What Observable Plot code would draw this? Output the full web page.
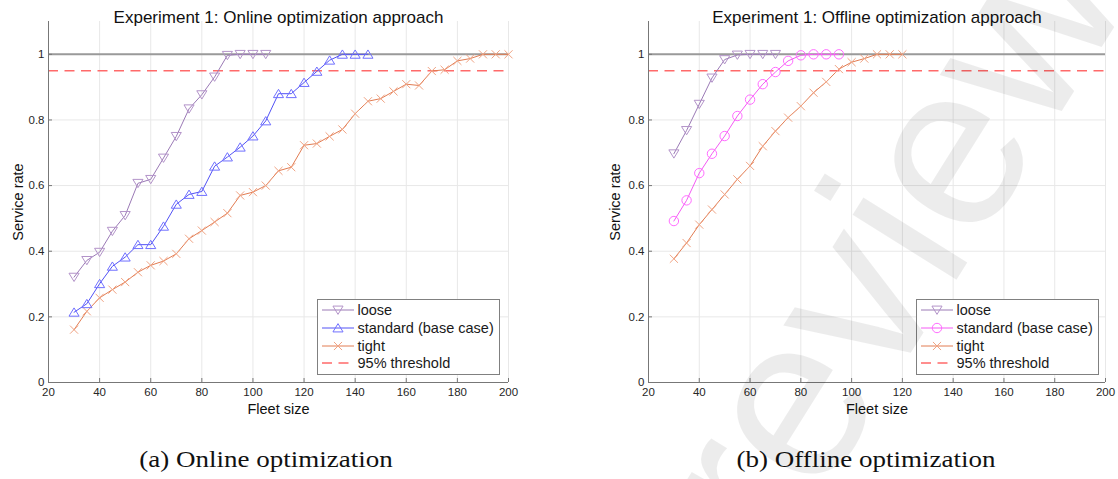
<!DOCTYPE html>
<html><head><meta charset="utf-8">
<script src="https://cdn.jsdelivr.net/npm/d3@7"></script>
<script src="https://cdn.jsdelivr.net/npm/@observablehq/plot@0.6"></script>
<style>
body{margin:0;background:#fff;}
#root{position:relative;width:1118px;height:479px;overflow:hidden;background:#fff;font-family:"Liberation Sans",Arial,sans-serif;color:#1a1a1a;}
.chart{position:absolute;top:0;}
.caption{position:absolute;top:446px;font-family:"Liberation Serif","Times New Roman",serif;font-size:22.5px;line-height:28px;white-space:nowrap;transform:translateX(-50%) scaleX(1.2);color:#111;}
.legend{position:absolute;border:1px solid #808080;background:#fff;box-sizing:border-box;padding-top:1.5px;}
.legend .row{display:flex;align-items:center;height:17.7px;font-size:14.5px;color:#1a1a1a;white-space:nowrap;}
.legend svg{margin-left:4px;margin-right:3.5px;}
#wm{position:absolute;left:0;top:0;pointer-events:none;}
</style>
</head><body>
<div id="root">
  <div id="c1" class="chart" style="left:0px"></div>
  <div id="c2" class="chart" style="left:559px"></div>
  <div class="caption" style="left:266px">(a) Online optimization</div>
  <div class="caption" style="left:866px">(b) Offline optimization</div>
  <div id="lg1" class="legend" style="left:317px;top:299px;width:183px;height:76px"></div>
  <div id="lg2" class="legend" style="left:916px;top:299px;width:183px;height:76px"></div>
  <svg id="wm" width="1118" height="479"></svg>
</div>
<script>
// ---- data ----
const xTicks = [20, 40, 60, 80, 100, 120, 140, 160, 180, 200];
const yTicks = [0, 0.2, 0.4, 0.6, 0.8, 1];
const threshold = 0.95;
const fullService = 1;

const onlineLooseFleet = [30, 35, 40, 45, 50, 55, 60, 65, 70, 75, 80, 85, 90, 95, 100, 105];
const onlineLoose = [0.321, 0.372, 0.397, 0.461, 0.509, 0.607, 0.619, 0.684, 0.750, 0.834, 0.877, 0.931, 0.997, 1, 1, 1];

const onlineStandardFleet = [30, 35, 40, 45, 50, 55, 60, 65, 70, 75, 80, 85, 90, 95, 100, 105, 110, 115, 120, 125, 130, 135, 140, 145];
const onlineStandard = [0.214, 0.240, 0.301, 0.354, 0.382, 0.420, 0.420, 0.476, 0.543, 0.573, 0.582, 0.659, 0.687, 0.717, 0.751, 0.797, 0.880, 0.880, 0.914, 0.948, 0.982, 1, 1, 1];

const onlineTightFleet = [30, 35, 40, 45, 50, 55, 60, 65, 70, 75, 80, 85, 90, 95, 100, 105, 110, 115, 120, 125, 130, 135, 140, 145, 150, 155, 160, 165, 170, 175, 180, 185, 190, 195, 200];
const onlineTight = [0.161, 0.217, 0.258, 0.283, 0.306, 0.336, 0.357, 0.370, 0.392, 0.438, 0.463, 0.489, 0.516, 0.570, 0.580, 0.600, 0.645, 0.656, 0.723, 0.728, 0.750, 0.771, 0.819, 0.857, 0.865, 0.887, 0.909, 0.905, 0.949, 0.953, 0.980, 0.987, 1, 1, 1];

const offlineLooseFleet = [30, 35, 40, 45, 50, 55, 60, 65, 70];
const offlineLoose = [0.697, 0.768, 0.848, 0.928, 0.984, 0.998, 1, 1, 1];

const offlineStandardFleet = [30, 35, 40, 45, 50, 55, 60, 65, 70, 75, 80, 85, 90, 95];
const offlineStandard = [0.492, 0.555, 0.638, 0.697, 0.751, 0.812, 0.862, 0.909, 0.946, 0.980, 0.997, 1, 1, 1];

const offlineTightFleet = [30, 35, 40, 45, 50, 55, 60, 65, 70, 75, 80, 85, 90, 95, 100, 105, 110, 115, 120];
const offlineTight = [0.377, 0.425, 0.481, 0.527, 0.573, 0.619, 0.660, 0.720, 0.766, 0.807, 0.842, 0.883, 0.916, 0.955, 0.976, 0.987, 1, 1, 1];

const seriesNames = ["loose", "standard (base case)", "tight", "95% threshold"];
const titles = ["Experiment 1: Online optimization approach", "Experiment 1: Offline optimization approach"];

// ---- styling ----
const C = {
  looseLine: "#9b7ab6", looseMark: "#b393c9",
  blueLine: "#5252f5", blueMark: "#7070ff",
  magLine: "#f45af4", magMark: "#ff6cff",
  tightLine: "#e27c52", tightMark: "#f0a383",
  thr: "#ff6a6a", one: "#9a9a9a", grid: "#e8e8e8", axis: "#777777", text: "#262626"
};

function rOf(size){ return Math.sqrt(size / Math.PI); }
const triDown = {draw(c, size){ const r = rOf(size); c.moveTo(-r*1.1, -r*0.85); c.lineTo(r*1.1, -r*0.85); c.lineTo(0, r*0.95); c.closePath(); }};
const triUp = {draw(c, size){ const r = rOf(size); c.moveTo(-r*1.1, r*0.85); c.lineTo(r*1.1, r*0.85); c.lineTo(0, -r*0.95); c.closePath(); }};
const cross = {draw(c, size){ const r = rOf(size)*0.9; c.moveTo(-r, -r); c.lineTo(r, r); c.moveTo(-r, r); c.lineTo(r, -r); }};
const ring = {draw(c, size){ const r = rOf(size); c.moveTo(r, 0); c.arc(0, 0, r, 0, 2*Math.PI); }};

const tbl = (fleet, vals) => fleet.map((f, i) => ({fleet: f, rate: vals[i]}));

function series(data, line, mark, symbol, r){
  return [
    Plot.line(data, {x: "fleet", y: "rate", stroke: line, strokeWidth: 1}),
    Plot.dot(data, {x: "fleet", y: "rate", stroke: mark, fill: "none", symbol, r, strokeWidth: 1})
  ];
}

function chart(opts){
  return Plot.plot({
    width: 559, height: 430,
    marginLeft: opts.ml, marginRight: opts.mr, marginTop: 21, marginBottom: 48,
    x: {domain: [20, 200]},
    y: {domain: [0, 1.1]},
    style: {fontFamily: "'Liberation Sans', Arial, sans-serif", color: C.text, background: "transparent", overflow: "visible"},
    marks: [
      Plot.gridX(xTicks.slice(1), {stroke: C.grid, strokeOpacity: 1}),
      Plot.gridY(yTicks.slice(1), {stroke: C.grid, strokeOpacity: 1}),
      Plot.ruleY([fullService], {stroke: C.one, strokeWidth: 2}),
      Plot.ruleY([threshold], {stroke: C.thr, strokeWidth: 1.5, strokeDasharray: "10,6.5"}),
      ...series(opts.tight, C.tightLine, C.tightMark, cross, 4.5),
      ...series(opts.std, opts.stdLine, opts.stdMark, opts.stdSym, opts.stdR),
      ...series(opts.loose, C.looseLine, C.looseMark, triDown, 4.6),
      Plot.axisX(xTicks, {tickSize: -4, tickPadding: 9, stroke: C.axis, fill: C.text, fontSize: 11.5, label: null, tickFormat: d => String(d)}),
      Plot.axisY(yTicks, {tickSize: -4, tickPadding: 8, stroke: C.axis, fill: C.text, fontSize: 11.5, label: null, tickFormat: d => String(d)}),
      Plot.ruleX([20], {stroke: C.axis}),
      Plot.ruleY([0], {stroke: C.axis}),
      Plot.text([opts.title], {frameAnchor: "top", dy: -10.5, fontSize: 17, fill: "#111", textAnchor: "middle"}),
      Plot.text(["Fleet size"], {frameAnchor: "bottom", dy: 31, fontSize: 14.5, fill: "#111", textAnchor: "middle"}),
      Plot.text(["Service rate"], {frameAnchor: "left", dx: opts.ylx, rotate: -90, fontSize: 14.5, fill: "#111", textAnchor: "middle"})
    ]
  });
}

document.getElementById("c1").append(chart({
  ml: 48, mr: 51, ylx: -30.5, title: titles[0],
  loose: tbl(onlineLooseFleet, onlineLoose),
  std: tbl(onlineStandardFleet, onlineStandard),
  tight: tbl(onlineTightFleet, onlineTight),
  stdLine: C.blueLine, stdMark: C.blueMark, stdSym: triUp, stdR: 4.6
}));
document.getElementById("c2").append(chart({
  ml: 89, mr: 13, ylx: -33, title: titles[1],
  loose: tbl(offlineLooseFleet, offlineLoose),
  std: tbl(offlineStandardFleet, offlineStandard),
  tight: tbl(offlineTightFleet, offlineTight),
  stdLine: C.magLine, stdMark: C.magMark, stdSym: ring, stdR: 4.7
}));

// ---- legends ----
function legend(el, items){
  items.forEach(it => {
    const row = document.createElement("div"); row.className = "row";
    const svg = d3.create("svg").attr("width", 32).attr("height", 14);
    svg.append("line").attr("x1", 0).attr("x2", 32).attr("y1", 7).attr("y2", 7)
      .attr("stroke", it.line).attr("stroke-width", it.dash ? 1.5 : 1).attr("stroke-dasharray", it.dash || null);
    if (it.sym) {
      const p = d3.path(); it.sym.draw(p, Math.PI * it.r * it.r);
      svg.append("path").attr("d", p.toString()).attr("transform", "translate(16,7)")
        .attr("fill", "none").attr("stroke", it.mark);
    }
    row.append(svg.node());
    const t = document.createElement("span"); t.textContent = it.name; row.append(t);
    el.append(row);
  });
}
legend(document.getElementById("lg1"), [
  {name: seriesNames[0], line: C.looseLine, mark: C.looseMark, sym: triDown, r: 4.6},
  {name: seriesNames[1], line: C.blueLine, mark: C.blueMark, sym: triUp, r: 4.6},
  {name: seriesNames[2], line: C.tightLine, mark: C.tightMark, sym: cross, r: 4.5},
  {name: seriesNames[3], line: C.thr, dash: "10,6.5"}
]);
legend(document.getElementById("lg2"), [
  {name: seriesNames[0], line: C.looseLine, mark: C.looseMark, sym: triDown, r: 4.6},
  {name: seriesNames[1], line: C.magLine, mark: C.magMark, sym: ring, r: 4.7},
  {name: seriesNames[2], line: C.tightLine, mark: C.tightMark, sym: cross, r: 4.5},
  {name: seriesNames[3], line: C.thr, dash: "10,6.5"}
]);

// ---- watermark ----
d3.select("#wm").append("text")
  .attr("transform", "translate(955,282) rotate(-58)")
  .attr("text-anchor", "middle")
  .attr("font-family", "'Liberation Sans', Arial, sans-serif")
  .attr("font-size", 232)
  .attr("fill", "rgba(0,0,0,0.075)")
  .text("review");
</script>
</body></html>
